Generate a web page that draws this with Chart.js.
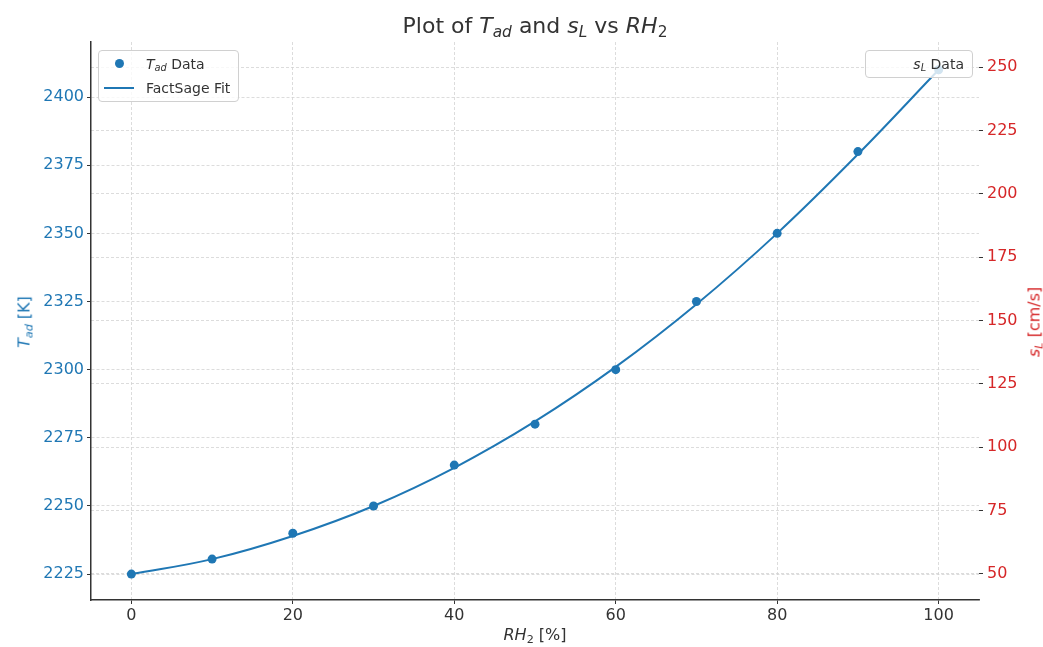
<!DOCTYPE html>
<html>
<head>
<meta charset="utf-8">
<script src="https://cdn.jsdelivr.net/npm/chart.js@4.4.1/dist/chart.umd.min.js"></script>
<style>
  html, body { margin: 0; padding: 0; background: #fff; }
  #wrap { position: relative; width: 1043px; height: 647px; font-family: "DejaVu Sans", sans-serif; }
  #wrap canvas { position: absolute; left: 0; top: 0; }
  .lbl { position: absolute; white-space: nowrap; color: #333; }
  .lbl i { font-style: italic; }
  .lbl sub { font-size: 0.7em; vertical-align: -0.25em; line-height: 0; }
  #title { left: 535px; top: 13px; font-size: 22px; transform: translateX(-50%); }
  #xlabel { left: 535px; top: 625px; font-size: 16px; transform: translateX(-50%); }
  #ylabel { left: 24px; top: 322px; font-size: 16px; color: #1f77b4; transform: translate(-50%, -50%) rotate(-90deg); }
  #y1label { left: 1034px; top: 322px; font-size: 16px; color: #d62728; transform: translate(-50%, -50%) rotate(-90deg); }
  .legend { position: absolute; background: rgba(255,255,255,0.8); border: 1px solid #d0d0d0; border-radius: 4px; font-size: 14px; color: #333; padding: 1px 0; }
  .legend .row { position: relative; height: 24px; line-height: 24px; padding-left: 47px; padding-right: 8px; }
  .legend i { font-style: italic; }
  .legend sub { font-size: 0.7em; vertical-align: -0.25em; line-height: 0; }
  .dot { position: absolute; left: 16px; top: 7px; width: 9px; height: 9px; border-radius: 50%; background: #1f77b4; }
  .seg { position: absolute; left: 5px; top: 11px; width: 30px; height: 2px; background: #1f77b4; }
</style>
</head>
<body>
<div id="wrap">
  <canvas id="chart" width="1043" height="647"></canvas>
  <div id="title" class="lbl">Plot of <i>T</i><sub><i>ad</i></sub> and <i>s</i><sub><i>L</i></sub> vs <i>RH</i><sub>2</sub></div>
  <div id="xlabel" class="lbl"><i>RH</i><sub>2</sub> [%]</div>
  <div id="ylabel" class="lbl"><i>T</i><sub><i>ad</i></sub> [K]</div>
  <div id="y1label" class="lbl"><i>s</i><sub><i>L</i></sub> [cm/s]</div>
  <div class="legend" style="left:98px; top:50px;">
    <div class="row"><span class="dot"></span><i>T</i><sub><i>ad</i></sub> Data</div>
    <div class="row"><span class="seg"></span>FactSage Fit</div>
  </div>
  <div class="legend" style="right:70px; top:50px;">
    <div class="row"><i>s</i><sub><i>L</i></sub> Data</div>
  </div>
</div>
<script>
const rh2 = [0, 10, 20, 30, 40, 50, 60, 70, 80, 90, 100];
const tadData = [2225, 2230.5, 2240, 2250, 2265, 2280, 2300, 2325, 2350, 2380, 2410];
const tadFit = [2225, 2230.5, 2239, 2250, 2264, 2281, 2301, 2324, 2350, 2379, 2410];
const sLData = [];

const xTicks = [0, 20, 40, 60, 80, 100];
const tadTicks = [2225, 2250, 2275, 2300, 2325, 2350, 2375, 2400];
const sLTicks = [50, 75, 100, 125, 150, 175, 200, 225, 250];

const blue = '#1f77b4';
const red = '#d62728';
const gridColor = '#d3d3d3';
const tickFont = { family: 'DejaVu Sans', size: 16 };

const toPoints = (xs, ys) => ys.map((y, i) => ({ x: xs[i], y: y }));
const fixedTicks = list => s => { s.ticks = list.map(v => ({ value: v })); };

const ctx = document.getElementById('chart').getContext('2d');
const chart = new Chart(ctx, {
    type: 'scatter',
    data: {
        datasets: [
            {
                label: 'Tad Data',
                data: toPoints(rh2, tadData),
                backgroundColor: blue,
                borderColor: blue,
                pointRadius: 4.5,
                pointBorderWidth: 0,
                yAxisID: 'y',
                order: 1
            },
            {
                label: 'FactSage Fit',
                type: 'line',
                data: toPoints(rh2, tadFit),
                borderColor: blue,
                borderWidth: 2,
                pointRadius: 0,
                tension: 0.4,
                yAxisID: 'y',
                order: 0
            },
            {
                label: 'sL Data',
                data: sLData,
                backgroundColor: red,
                yAxisID: 'y1',
                order: 2
            }
        ]
    },
    options: {
        responsive: false,
        animation: false,
        layout: { padding: { top: 42, left: 0, right: 0, bottom: 0 } },
        plugins: {
            legend: { display: false },
            title: { display: false },
            tooltip: { enabled: false }
        },
        scales: {
            x: {
                type: 'linear',
                min: -5,
                max: 105,
                afterFit: s => { s.height = 47; },
                afterBuildTicks: fixedTicks(xTicks),
                ticks: { color: '#333', font: tickFont, padding: 2, maxRotation: 0 },
                grid: { color: gridColor, lineWidth: 0.8, tickColor: '#333', tickLength: 4, tickWidth: 1 },
                border: { display: true, color: '#333', width: 1.5, dash: [3, 2] }
            },
            y: {
                position: 'left',
                min: 2215.5,
                max: 2420.2,
                afterFit: s => { s.width = 91; },
                afterBuildTicks: fixedTicks(tadTicks),
                ticks: { color: blue, font: tickFont, padding: 3, callback: v => String(v) },
                grid: { color: gridColor, lineWidth: 0.8, tickColor: '#333', tickLength: 4, tickWidth: 1 },
                border: { display: true, color: '#333', width: 1.5, dash: [3, 2] }
            },
            y1: {
                position: 'right',
                min: 39.7,
                max: 260,
                afterFit: s => { s.width = 64; },
                afterBuildTicks: fixedTicks(sLTicks),
                ticks: { color: red, font: tickFont, padding: 4, callback: v => String(v) },
                grid: { color: gridColor, lineWidth: 0.8, tickColor: '#333', tickLength: 4, tickWidth: 1 },
                border: { display: false, dash: [3, 2] }
            }
        }
    }
});
</script>
</body>
</html>
